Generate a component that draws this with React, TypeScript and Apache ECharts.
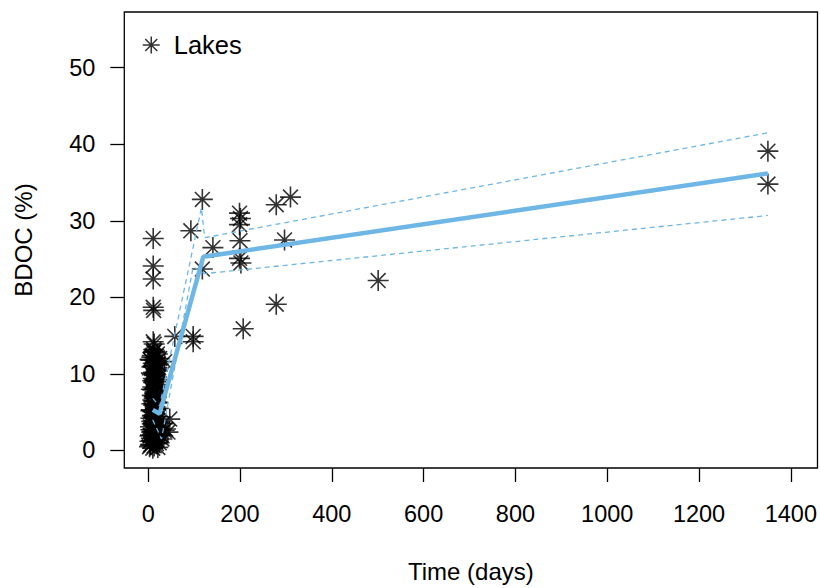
import React, { useEffect, useRef } from "react";
import * as echarts from "echarts";

// Observations (Lakes)
const timeDays: number[] = [
  // dense cluster near day 0-50
  3, 4, 5, 5, 6, 6, 7, 7, 8, 8, 9, 9, 10, 10, 10, 11, 11, 12, 12, 12,
  13, 13, 14, 14, 15, 15, 16, 16, 17, 18, 18, 19, 20, 20, 21, 22, 23, 24, 25, 26,
  6, 9, 12, 15, 18, 8, 11, 14, 17, 7, 10, 13, 16, 19, 22, 9, 12, 15,
  28, 30, 33, 35, 38, 43, 47, 36, 25, 20,
  4, 6, 8, 10, 12, 14, 16, 18, 20, 22, 5, 7, 9, 11, 13, 15, 17, 19, 21, 23,
  4, 7, 10, 13, 16, 19, 6, 9, 12, 15, 18, 21, 8, 11, 14, 17, 10, 13, 16, 12,
  // high values at early times
  11, 11, 11, 11, 12, 11, 13, 14, 12,
  // later times
  58, 98, 98, 93, 118, 141, 118, 207, 199, 201, 199, 200, 199, 202,
  279, 310, 297, 279, 501, 1350, 1350,
];
const bdocPct: number[] = [
  0.5, 1.2, 2.0, 3.1, 0.8, 4.2, 1.6, 5.3, 2.4, 6.1, 3.5, 7.2, 0.3, 4.6, 8.3, 1.1, 9.4, 2.8, 5.9, 10.2,
  0.6, 6.8, 3.9, 11.1, 1.4, 7.7, 2.2, 9.0, 4.8, 0.9, 8.6, 3.3, 1.8, 6.3, 10.6, 2.6, 4.4, 1.0, 3.7, 2.1,
  11.8, 12.4, 12.8, 12.1, 11.5, 10.9, 11.4, 9.8, 7.0, 8.0, 6.6, 5.0, 4.0, 3.0, 5.5, 9.9, 8.9, 7.4,
  2.0, 1.5, 3.5, 2.6, 2.8, 2.4, 4.1, 11.6, 12.0, 12.6,
  1.9, 2.7, 3.8, 5.1, 6.4, 7.5, 8.2, 9.6, 10.4, 11.3, 0.7, 1.3, 2.5, 3.4, 4.3, 5.7, 6.9, 8.4, 9.2, 10.8,
  11.9, 10.1, 9.1, 8.1, 7.1, 6.2, 5.2, 4.5, 3.6, 2.3, 1.7, 0.4, 12.2, 11.0, 10.0, 9.3, 7.9, 6.5, 5.4, 13.2,
  27.7, 24.1, 22.4, 18.7, 18.3, 14.2, 13.9, 13.0, 12.9,
  14.9, 14.9, 14.2, 28.7, 32.8, 26.5, 23.7, 15.9, 31.0, 30.3, 29.5, 27.4, 25.1, 24.5,
  32.1, 33.1, 27.5, 19.1, 22.2, 39.1, 34.8,
];

// Fitted piecewise trend and its confidence band
const fitTime: number[] = [10, 25, 120, 1350];
const fitValue: number[] = [5.3, 4.8, 25.3, 36.2];
const upperTime: number[] = [10, 25, 116, 123, 1350];
const upperValue: number[] = [6.8, 5.8, 31.7, 27.8, 41.5];
const lowerTime: number[] = [10, 29, 98, 123, 1350];
const lowerValue: number[] = [4.0, 1.5, 24.0, 23.1, 30.7];

// Tick labels
const xTicks: number[] = [0, 200, 400, 600, 800, 1000, 1200, 1400];
const yTicks: number[] = [0, 10, 20, 30, 40, 50];

const ASTERISK =
  "path://M0,-1L0,1M-1,0L1,0M-0.7071,-0.7071L0.7071,0.7071M-0.7071,0.7071L0.7071,-0.7071";

const FONT = "Liberation Sans, Arial, Helvetica, sans-serif";
const BLUE = "#6EB6E6";

const pairs = (xs: number[], ys: number[]) => xs.map((x, i) => [x, ys[i]]);

export default function App() {
  const ref = useRef<HTMLDivElement>(null);
  useEffect(() => {
    if (!ref.current) return;
    const chart = echarts.init(ref.current, undefined, { renderer: "svg" });
    chart.setOption({
      animation: false,
      backgroundColor: "#fff",
      textStyle: { fontFamily: FONT, color: "#000" },
      grid: {
        left: 124.3,
        right: 1.3,
        top: 12,
        bottom: 115.3,
        show: true,
        borderColor: "#000",
        borderWidth: 1.3,
        backgroundColor: "transparent",
      },
      legend: {
        data: [{ name: "Lakes", icon: ASTERISK }],
        left: 137,
        top: 27,
        itemWidth: 17,
        itemHeight: 17,
        itemStyle: { color: "transparent", borderColor: "#000", borderWidth: 1.5 },
        textStyle: { fontSize: 25.5, color: "#000", fontFamily: FONT, padding: [0, 0, 0, 9] },
      },
      xAxis: {
        type: "value",
        min: -52,
        max: 1458,
        splitLine: { show: false },
        axisLine: { show: false, onZero: false },
        axisTick: {
          show: true,
          inside: false,
          length: 14,
          lineStyle: { color: "#000", width: 1.3 },
          customValues: xTicks,
        },
        axisLabel: {
          show: true,
          customValues: xTicks,
          formatter: (v: number) => String(v),
          fontSize: 23.5,
          color: "#000",
          fontFamily: FONT,
          margin: 34,
        },
        name: "Time (days)",
        nameLocation: "middle",
        nameGap: 91,
        nameTextStyle: { fontSize: 24, color: "#000", fontFamily: FONT },
      },
      yAxis: {
        type: "value",
        min: -2.29,
        max: 57.28,
        splitLine: { show: false },
        axisLine: { show: false, onZero: false },
        axisTick: {
          show: true,
          inside: false,
          length: 14,
          lineStyle: { color: "#000", width: 1.3 },
          customValues: yTicks,
        },
        axisLabel: {
          show: true,
          customValues: yTicks,
          formatter: (v: number) => String(v),
          fontSize: 23.5,
          color: "#000",
          fontFamily: FONT,
          margin: 29,
        },
        name: "BDOC (%)",
        nameLocation: "middle",
        nameGap: 89,
        nameRotate: 90,
        nameTextStyle: { fontSize: 24, color: "#000", fontFamily: FONT },
      },
      series: [
        {
          name: "Lakes",
          type: "scatter",
          data: pairs(timeDays, bdocPct),
          symbol: ASTERISK,
          symbolSize: 21,
          itemStyle: { color: "transparent", borderColor: "#000", borderWidth: 1.6 },
          z: 2,
        },
        {
          name: "fit",
          type: "line",
          data: pairs(fitTime, fitValue),
          showSymbol: false,
          symbol: "none",
          lineStyle: { color: BLUE, width: 4.5 },
          z: 3,
        },
        {
          name: "upper",
          type: "line",
          data: pairs(upperTime, upperValue),
          showSymbol: false,
          symbol: "none",
          lineStyle: { color: BLUE, width: 1.3, type: [5, 4] },
          z: 3,
        },
        {
          name: "lower",
          type: "line",
          data: pairs(lowerTime, lowerValue),
          showSymbol: false,
          symbol: "none",
          lineStyle: { color: BLUE, width: 1.3, type: [5, 4] },
          z: 3,
        },
      ],
    });
    return () => chart.dispose();
  }, []);
  return <div ref={ref} style={{ width: 820, height: 588, position: "absolute", left: 0, top: 0 }} />;
}
